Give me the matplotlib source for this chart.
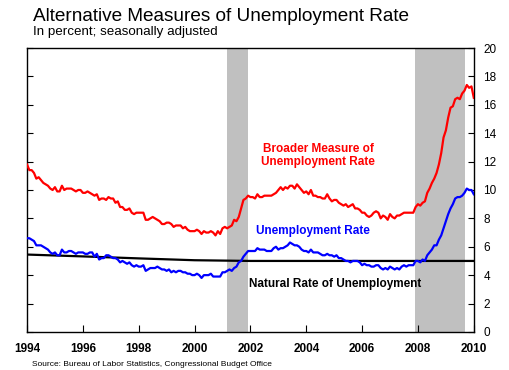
import numpy as np
import matplotlib
matplotlib.use("Agg")
import matplotlib.pyplot as plt

plt.rcParams['font.family'] = ['Liberation Sans', 'DejaVu Sans']

# Monthly data Jan 1994 - Jan 2010
unemp = [
    6.6, 6.6, 6.5, 6.4, 6.1, 6.1, 6.1, 6.0, 5.9, 5.8, 5.6, 5.5,
    5.6, 5.4, 5.4, 5.8, 5.6, 5.6, 5.7, 5.7, 5.6, 5.5, 5.6, 5.6,
    5.6, 5.5, 5.5, 5.6, 5.6, 5.3, 5.5, 5.1, 5.2, 5.2, 5.4, 5.4,
    5.3, 5.2, 5.2, 5.1, 4.9, 5.0, 4.9, 4.8, 4.9, 4.7, 4.6, 4.7,
    4.6, 4.6, 4.7, 4.3, 4.4, 4.5, 4.5, 4.5, 4.6, 4.5, 4.4, 4.4,
    4.3, 4.4, 4.2, 4.3, 4.2, 4.3, 4.3, 4.2, 4.2, 4.1, 4.1, 4.0,
    4.0, 4.1, 4.0, 3.8, 4.0, 4.0, 4.0, 4.1, 3.9, 3.9, 3.9, 3.9,
    4.2, 4.2, 4.3, 4.4, 4.3, 4.5, 4.6, 4.9, 5.0, 5.3, 5.5, 5.7,
    5.7, 5.7, 5.7, 5.9, 5.8, 5.8, 5.8, 5.7, 5.7, 5.7, 5.9, 6.0,
    5.8, 5.9, 5.9, 6.0, 6.1, 6.3, 6.2, 6.1, 6.1, 6.0, 5.8, 5.7,
    5.7, 5.6, 5.8, 5.6, 5.6, 5.6, 5.5, 5.4, 5.4, 5.5, 5.4, 5.4,
    5.3, 5.4, 5.2, 5.2, 5.1, 5.0, 5.0, 4.9, 5.0, 5.0, 5.0, 4.9,
    4.7, 4.8, 4.7, 4.7, 4.6, 4.6, 4.7, 4.7, 4.5, 4.4, 4.5, 4.4,
    4.6, 4.5, 4.4, 4.5, 4.4, 4.6, 4.7, 4.6, 4.7, 4.7, 4.7, 5.0,
    5.0, 4.9, 5.1, 5.0, 5.4, 5.6, 5.8, 6.1, 6.1, 6.5, 6.8, 7.3,
    7.8, 8.3, 8.7, 9.0, 9.4, 9.5, 9.5, 9.6, 9.8, 10.1, 10.0, 10.0,
    9.7,
]
broader = [
    11.8, 11.4, 11.4, 11.2, 10.8, 10.9, 10.7, 10.5, 10.4, 10.3, 10.1, 10.0,
    10.2, 9.9, 9.9, 10.3, 10.0, 10.1, 10.1, 10.1, 10.0, 9.9, 10.0, 10.0,
    9.8, 9.8, 9.9, 9.8, 9.7, 9.6, 9.7, 9.3, 9.4, 9.4, 9.3, 9.5,
    9.4, 9.4, 9.1, 9.2, 8.8, 8.8, 8.6, 8.6, 8.7, 8.4, 8.3, 8.4,
    8.4, 8.4, 8.4, 7.9, 7.9, 8.0, 8.1, 8.0, 7.9, 7.8, 7.6, 7.6,
    7.7, 7.7, 7.6, 7.4, 7.5, 7.5, 7.5, 7.3, 7.4, 7.2, 7.1, 7.1,
    7.1, 7.2, 7.1, 6.9, 7.1, 7.0, 7.0, 7.1, 7.0, 6.8, 7.1, 6.9,
    7.3, 7.4, 7.3, 7.4, 7.5, 7.9, 7.8, 8.1, 8.7, 9.3, 9.4, 9.6,
    9.5, 9.5, 9.4, 9.7, 9.5, 9.5, 9.6, 9.6, 9.6, 9.6, 9.7, 9.8,
    10.0, 10.2, 10.0, 10.2, 10.1, 10.3, 10.3, 10.1, 10.4, 10.2, 10.0, 9.8,
    9.9, 9.7, 10.0, 9.6, 9.6, 9.5, 9.5, 9.4, 9.4, 9.7, 9.4, 9.2,
    9.3, 9.3, 9.1, 9.0, 8.9, 9.0, 8.8, 8.9, 9.0, 8.7, 8.7, 8.6,
    8.4, 8.4, 8.2, 8.1, 8.2, 8.4, 8.5, 8.4, 8.0, 8.2, 8.1, 7.9,
    8.3, 8.1, 8.0, 8.2, 8.2, 8.3, 8.4, 8.4, 8.4, 8.4, 8.4, 8.8,
    9.0, 8.9, 9.1, 9.2, 9.8, 10.1, 10.5, 10.8, 11.2, 11.8, 12.6, 13.7,
    14.2, 15.1, 15.8, 15.9, 16.4, 16.5, 16.4, 16.8, 17.0, 17.4, 17.2, 17.3,
    16.5,
]
natural_years = [1994, 1996, 1998, 2000, 2002, 2004, 2006, 2008, 2010]
natural_vals = [5.45, 5.32, 5.18, 5.05, 5.0, 5.0, 5.0, 5.0, 5.0]

recessions = [(2001.17, 2001.9), (2007.9, 2009.7)]
xticks = list(range(1994, 2011, 2))
yticks = list(range(0, 21, 2))

months = 1994 + np.arange(len(unemp)) / 12.0

fig = plt.figure(figsize=(5.1, 3.7), dpi=100)
ax = fig.add_axes([0.053, 0.103, 0.876, 0.767])

for a, b in recessions:
    ax.axvspan(a, b, color='#C0C0C0', lw=0, zorder=0)

ax.plot(natural_years, natural_vals, color='black', lw=1.6, zorder=2)
ax.plot(months, broader, color='#FF0000', lw=1.6, zorder=3)
ax.plot(months, unemp, color='#0000FF', lw=1.6, zorder=3)

ax.set_xlim(1994, 2010)
ax.set_ylim(0, 20)
ax.set_xticks(xticks)
ax.set_xticklabels([str(t) for t in xticks], fontweight='bold', fontsize=8.5)
ax.set_yticks(yticks)
ax.yaxis.tick_right()
ax.tick_params(axis='y', which='both', left=True, right=True, direction='in',
               length=4, labelsize=8.5, pad=7, labelleft=False, labelright=True)
ax.tick_params(axis='x', direction='in', length=5, pad=8, top=False)
for s in ax.spines.values():
    s.set_linewidth(1.0)

ax.text(2004.43, 12.45, 'Broader Measure of\nUnemployment Rate', color='#FF0000',
        fontweight='bold', fontsize=8.5, ha='center', va='center', linespacing=1.1)
ax.text(2004.23, 7.1, 'Unemployment Rate', color='#0000FF',
        fontweight='bold', fontsize=8.5, ha='center', va='center')
ax.text(2005.04, 3.4, 'Natural Rate of Unemployment', color='black',
        fontweight='bold', fontsize=8.5, ha='center', va='center')

fig.text(33 / 510, 1 - 21 / 370, 'Alternative Measures of Unemployment Rate',
         fontsize=13.7, ha='left', va='baseline')
fig.text(33 / 510, 1 - 35.5 / 370, 'In percent; seasonally adjusted',
         fontsize=9.6, ha='left', va='baseline')
fig.text(32 / 510, 1 - 366 / 370, 'Source: Bureau of Labor Statistics, Congressional Budget Office',
         fontsize=6.0, ha='left', va='baseline')

fig.savefig('out.png', dpi=100)
